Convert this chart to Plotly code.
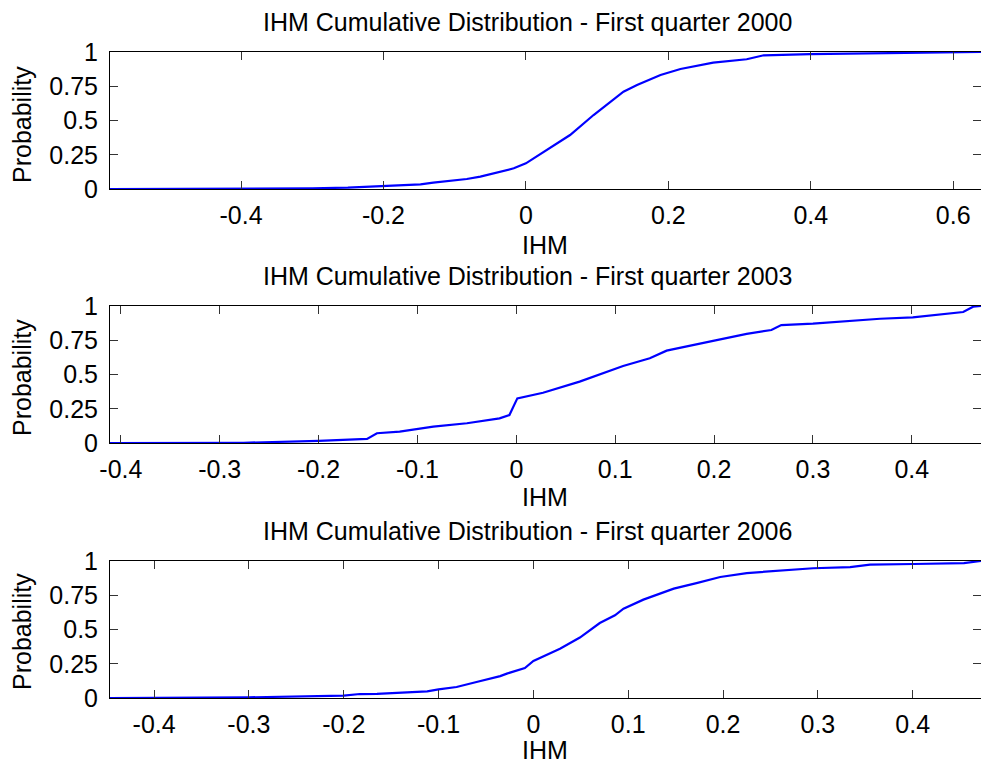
import plotly.graph_objects as go

# ---------------- data ----------------
titles = [
    "IHM Cumulative Distribution - First quarter 2000",
    "IHM Cumulative Distribution - First quarter 2003",
    "IHM Cumulative Distribution - First quarter 2006",
]

x_2000 = [-0.584, -0.45, -0.355, -0.30, -0.25, -0.20, -0.148, -0.13, -0.083, -0.064,
          -0.036, -0.017, 0.0, 0.034, 0.062, 0.095, 0.137, 0.156, 0.189, 0.217,
          0.263, 0.310, 0.334, 0.399, 0.498, 0.591, 0.639]
p_2000 = [0.0, 0.0, 0.001, 0.005, 0.010, 0.020, 0.034, 0.046, 0.073, 0.090,
          0.126, 0.151, 0.187, 0.297, 0.394, 0.540, 0.710, 0.759, 0.832, 0.876,
          0.922, 0.947, 0.976, 0.985, 0.990, 0.995, 1.0]

x_2003 = [-0.411, -0.35, -0.276, -0.2, -0.158, -0.151, -0.141, -0.118, -0.084, -0.050,
          -0.017, -0.007, 0.001, 0.027, 0.064, 0.108, 0.135, 0.152, 0.199, 0.233,
          0.258, 0.268, 0.300, 0.368, 0.401, 0.452, 0.462, 0.470]
p_2003 = [0.0, 0.0, 0.002, 0.015, 0.027, 0.030, 0.071, 0.083, 0.119, 0.144,
          0.180, 0.204, 0.326, 0.367, 0.448, 0.562, 0.618, 0.674, 0.745, 0.796,
          0.825, 0.861, 0.871, 0.907, 0.917, 0.956, 0.995, 1.0]

x_2006 = [-0.4465, -0.334, -0.300, -0.200, -0.183, -0.165, -0.141, -0.112, -0.100, -0.081,
          -0.060, -0.035, -0.028, -0.009, 0.0, 0.028, 0.049, 0.070, 0.086, 0.095,
          0.116, 0.148, 0.172, 0.197, 0.225, 0.260, 0.295, 0.334, 0.355, 0.401,
          0.454, 0.472]
p_2006 = [0.0, 0.002, 0.005, 0.017, 0.029, 0.030, 0.037, 0.049, 0.063, 0.080,
          0.117, 0.160, 0.178, 0.219, 0.270, 0.360, 0.441, 0.547, 0.604, 0.652,
          0.718, 0.798, 0.839, 0.883, 0.912, 0.932, 0.947, 0.956, 0.974, 0.978,
          0.985, 1.0]

x_ranges = [[-0.584, 0.639], [-0.411, 0.470], [-0.4465, 0.472]]

xtick_vals_2000 = [-0.4, -0.2, 0.0, 0.2, 0.4, 0.6]
xtick_text_2000 = ["-0.4", "-0.2", "0", "0.2", "0.4", "0.6"]
xtick_vals_0306 = [-0.4, -0.3, -0.2, -0.1, 0.0, 0.1, 0.2, 0.3, 0.4]
xtick_text_0306 = ["-0.4", "-0.3", "-0.2", "-0.1", "0", "0.1", "0.2", "0.3", "0.4"]

ytick_vals = [0, 0.25, 0.5, 0.75, 1]
ytick_text = ["0", "0.25", "0.5", "0.75", "1"]

x_label = "IHM"
y_label = "Probability"

# ---------------- layout geometry (pixels) ----------------
W, H = 981, 764
L = 110
PW = W - L

def px_x(px):
    return (px - L) / PW

def px_y(py):
    return 1 - py / H

panels_px = [(52, 189), (306, 443), (561, 698)]   # top, bottom of each plot area
title_y = [22, 276, 531]
xlabel_y = [245, 497, 750]
ylabel_y = [125, 378, 632]

FONT = "Liberation Sans, Arial, Helvetica, sans-serif"
FS = 25

fig = go.Figure()
series = [(x_2000, p_2000), (x_2003, p_2003), (x_2006, p_2006)]
for i, (xs, ps) in enumerate(series):
    sfx = "" if i == 0 else str(i + 1)
    fig.add_trace(go.Scatter(x=xs, y=ps, mode="lines",
                             line=dict(color="#0000ff", width=2.2),
                             xaxis="x" + sfx, yaxis="y" + sfx,
                             showlegend=False, hoverinfo="skip"))

layout = dict(width=W, height=H, margin=dict(l=L, r=0, t=0, b=0, pad=0),
              autosize=False, template="none",
              paper_bgcolor="white", plot_bgcolor="white",
              font=dict(family=FONT, size=FS, color="black"),
              showlegend=False)

annotations = []
for i, (top, bot) in enumerate(panels_px):
    sfx = "" if i == 0 else str(i + 1)
    tv = xtick_vals_2000 if i == 0 else xtick_vals_0306
    tt = xtick_text_2000 if i == 0 else xtick_text_0306
    layout["xaxis" + sfx] = dict(
        domain=[0, 1], anchor="y" + sfx, range=x_ranges[i], automargin=False,
        tickmode="array", tickvals=tv, ticktext=tt,
        ticks="inside", ticklen=8, tickwidth=1, tickcolor="#333333",
        showline=True, linecolor="black", linewidth=1, mirror="ticks",
        showgrid=False, zeroline=False, ticklabelstandoff=4,
        tickfont=dict(family=FONT, size=FS, color="black"))
    layout["yaxis" + sfx] = dict(
        domain=[px_y(bot), px_y(top)], anchor="x" + sfx, range=[0, 1], automargin=False,
        tickmode="array", tickvals=ytick_vals, ticktext=ytick_text,
        ticks="inside", ticklen=8, tickwidth=1, tickcolor="#333333",
        showline=True, linecolor="black", linewidth=1, mirror="ticks",
        showgrid=False, zeroline=False, ticklabelstandoff=6,
        tickfont=dict(family=FONT, size=FS, color="black"))
    annotations.append(dict(text=titles[i], x=px_x(527), y=px_y(title_y[i]),
                            xref="paper", yref="paper", showarrow=False,
                            xanchor="center", yanchor="middle",
                            font=dict(family=FONT, size=FS, color="black")))
    annotations.append(dict(text=x_label, x=px_x(545), y=px_y(xlabel_y[i]),
                            xref="paper", yref="paper", showarrow=False,
                            xanchor="center", yanchor="middle",
                            font=dict(family=FONT, size=FS, color="black")))
    annotations.append(dict(text=y_label, x=px_x(22), y=px_y(ylabel_y[i]),
                            xref="paper", yref="paper", showarrow=False,
                            xanchor="center", yanchor="middle", textangle=-90,
                            font=dict(family=FONT, size=FS, color="black")))

layout["annotations"] = annotations
fig.update_layout(**layout)
fig.write_html(
    "out.html",
    config={"displayModeBar": False},
    post_script="document.body.style.margin='0';document.body.style.overflow='hidden';",
)
